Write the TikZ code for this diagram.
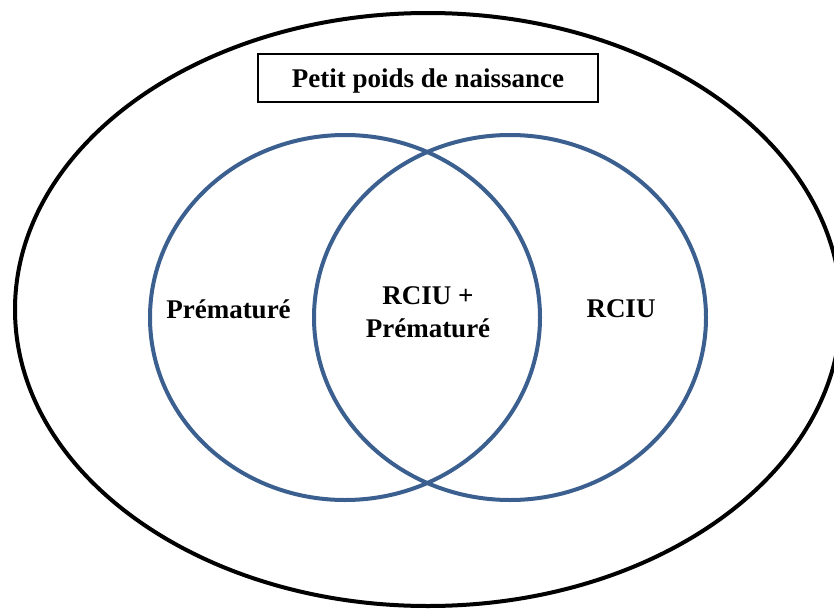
\documentclass[tikz,border=0pt]{standalone}
\usepackage{fontspec}
\setmainfont{Liberation Serif}
\definecolor{vennblue}{HTML}{3B6090}
\begin{document}
\begin{tikzpicture}[x=1pt,y=-1pt,
  outerset/.style={draw=black,line width=4pt},
  vennset/.style={draw=vennblue,line width=4pt},
  titlebox/.style={draw=black,line width=1.5pt,minimum width=340pt,minimum height=48pt,inner sep=0pt,
    font=\bfseries\fontsize{27}{33}\selectfont,text height=22pt,text depth=4pt},
  lbl/.style={font=\bfseries\fontsize{27}{33}\selectfont,inner sep=0pt,align=center}]
\useasboundingbox (0,0) rectangle (834,610);
\clip (0,0) rectangle (834,610);
\fill[white] (0,0) rectangle (834,610);
\draw[outerset] (428,309.5) ellipse [x radius=413, y radius=296.5];
\draw[vennset] (345,317.5) ellipse [x radius=195, y radius=182.5];
\draw[vennset] (510,317.5) ellipse [x radius=196, y radius=182.5];
\node[titlebox] (title) at (428,78) {Petit poids de naissance};
\node[lbl,anchor=base] (prem) at (228.5,318) {Prématuré};
\node[lbl,anchor=base] (rciu) at (621,317) {RCIU};
\node[lbl] (both) at (428,312.5) {RCIU +\\Prématuré};
\end{tikzpicture}
\end{document}
